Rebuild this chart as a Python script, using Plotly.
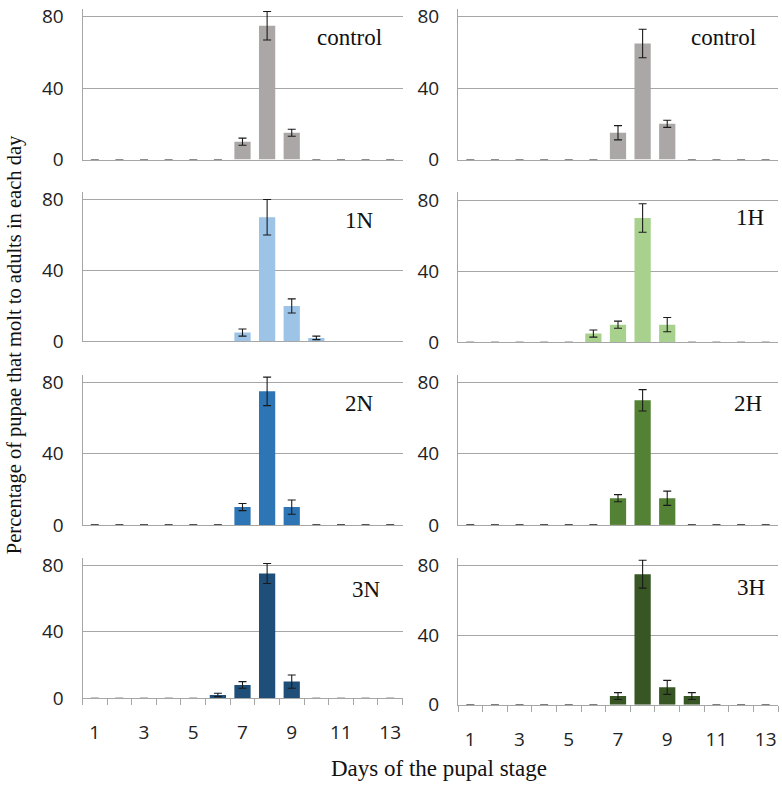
import plotly.graph_objects as go

days = list(range(1, 14))
tick_days = [1, 3, 5, 7, 9, 11, 13]
tick_labels = ["1", "3", "5", "7", "9", "11", "13"]
y_ticks = [0, 40, 80]

panel_names = ["control", "control", "1N", "1H", "2N", "2H", "3N", "3H"]

control_n = [0, 0, 0, 0, 0, 0, 10, 75, 15, 0, 0, 0, 0]
control_n_err = [0, 0, 0, 0, 0, 0, 2, 8, 2, 0, 0, 0, 0]
control_h = [0, 0, 0, 0, 0, 0, 15, 65, 20, 0, 0, 0, 0]
control_h_err = [0, 0, 0, 0, 0, 0, 4, 8, 2, 0, 0, 0, 0]
n1 = [0, 0, 0, 0, 0, 0, 5, 70, 20, 2, 0, 0, 0]
n1_err = [0, 0, 0, 0, 0, 0, 2, 10, 4, 1, 0, 0, 0]
h1 = [0, 0, 0, 0, 0, 5, 10, 70, 10, 0, 0, 0, 0]
h1_err = [0, 0, 0, 0, 0, 2, 2, 8, 4, 0, 0, 0, 0]
n2 = [0, 0, 0, 0, 0, 0, 10, 75, 10, 0, 0, 0, 0]
n2_err = [0, 0, 0, 0, 0, 0, 2, 8, 4, 0, 0, 0, 0]
h2 = [0, 0, 0, 0, 0, 0, 15, 70, 15, 0, 0, 0, 0]
h2_err = [0, 0, 0, 0, 0, 0, 2, 6, 4, 0, 0, 0, 0]
n3 = [0, 0, 0, 0, 0, 2, 8, 75, 10, 0, 0, 0, 0]
n3_err = [0, 0, 0, 0, 0, 1, 2, 6, 4, 0, 0, 0, 0]
h3 = [0, 0, 0, 0, 0, 0, 5, 75, 10, 5, 0, 0, 0]
h3_err = [0, 0, 0, 0, 0, 0, 2, 8, 4, 2, 0, 0, 0]

series = [control_n, control_h, n1, h1, n2, h2, n3, h3]
errors = [control_n_err, control_h_err, n1_err, h1_err, n2_err, h2_err, n3_err, h3_err]
colors = ["#aaa7a6", "#aaa7a6", "#9dc3e6", "#a9d18e", "#2e75b6", "#548235", "#1f4e79", "#375623"]

W, H = 782, 790
# pixel boxes (x0, x1, ytop, ybottom)
boxes = [
    (82.5, 402.5, 3.0, 157.3), (458.0, 778.0, 3.0, 157.3),
    (82.5, 402.5, 190.3, 343.7), (458.0, 778.0, 191.0, 344.7),
    (82.5, 402.5, 377.7, 531.7), (458.0, 778.0, 377.7, 531.7),
    (82.5, 402.5, 565.5, 709.3), (458.0, 778.0, 565.4, 716.0),
]
label_pos = [(349, 32), (723, 32), (359, 220), (750, 217), (359, 407), (748, 407), (366, 598), (751, 596)]

fig = go.Figure()
grid_c = "#a6a6a6"
for i in range(8):
    k = "" if i == 0 else str(i + 1)
    err = [e if e > 0 else None for e in errors[i]]
    fig.add_trace(go.Bar(
        x=days, y=series[i], xaxis="x" + k, yaxis="y" + k,
        marker=dict(color=colors[i], line=dict(width=0)),
        error_y=dict(type="data", array=err, visible=True, color="#1a1a1a", thickness=1.1, width=4),
        width=0.66, showlegend=False,
    ))
    x0, x1, yt, yb = boxes[i]
    bottom = i >= 6
    xa = dict(
        domain=[x0 / W, x1 / W], range=[0.5, 13.5], anchor="y" + k,
        showline=True, linecolor=grid_c, linewidth=1, showgrid=False, zeroline=False,
        tickvals=tick_days if bottom else [], ticktext=tick_labels if bottom else [],
        ticks="outside" if bottom else "", ticklen=8, tickcolor="rgba(0,0,0,0)",
        showticklabels=bottom, ticklabelstandoff=9,
        tickfont=dict(family="Open Sans", size=19, color="#222"),
        fixedrange=True,
    )
    if bottom:
        xa["minor"] = dict(tickvals=[d + 0.5 for d in range(0, 14)], ticks="outside", ticklen=6,
                           tickcolor=grid_c, tickwidth=1, showgrid=False)
    ya = dict(
        domain=[1 - yb / H, 1 - yt / H], range=[0, 84.4], anchor="x" + k,
        showline=True, linecolor=grid_c, linewidth=1,
        showgrid=True, gridcolor=grid_c, gridwidth=1, zeroline=False,
        tickvals=y_ticks, ticks="", ticklabelstandoff=14,
        tickfont=dict(family="Open Sans", size=19, color="#222"),
        fixedrange=True,
    )
    fig.update_layout(**{"xaxis" + k: xa, "yaxis" + k: ya})
    lx, ly = label_pos[i]
    fig.add_annotation(x=lx / W, y=1 - ly / H, xref="paper", yref="paper", text=panel_names[i],
                       showarrow=False, xanchor="center", yanchor="middle",
                       font=dict(family="Liberation Serif", size=23, color="#111"))

fig.add_annotation(x=14 / W, y=1 - 347.5 / H, xref="paper", yref="paper",
                   text="Percentage of pupae that molt to adults in each day", textangle=-90,
                   showarrow=False, xanchor="center", yanchor="middle",
                   font=dict(family="Liberation Serif", size=20.5, color="#111"))
fig.add_annotation(x=439 / W, y=1 - 781 / H, xref="paper", yref="paper",
                   text="Days of the pupal stage", showarrow=False, xanchor="center", yanchor="middle",
                   font=dict(family="Liberation Serif", size=23, color="#111"))

fig.update_layout(width=W, height=H, margin=dict(l=0, r=0, t=0, b=0),
                  plot_bgcolor="white", paper_bgcolor="white", bargap=0.34)
fig.write_html("out.html", config={"displayModeBar": False},
               post_script="document.body.style.margin='0px';document.body.style.padding='0px';")
